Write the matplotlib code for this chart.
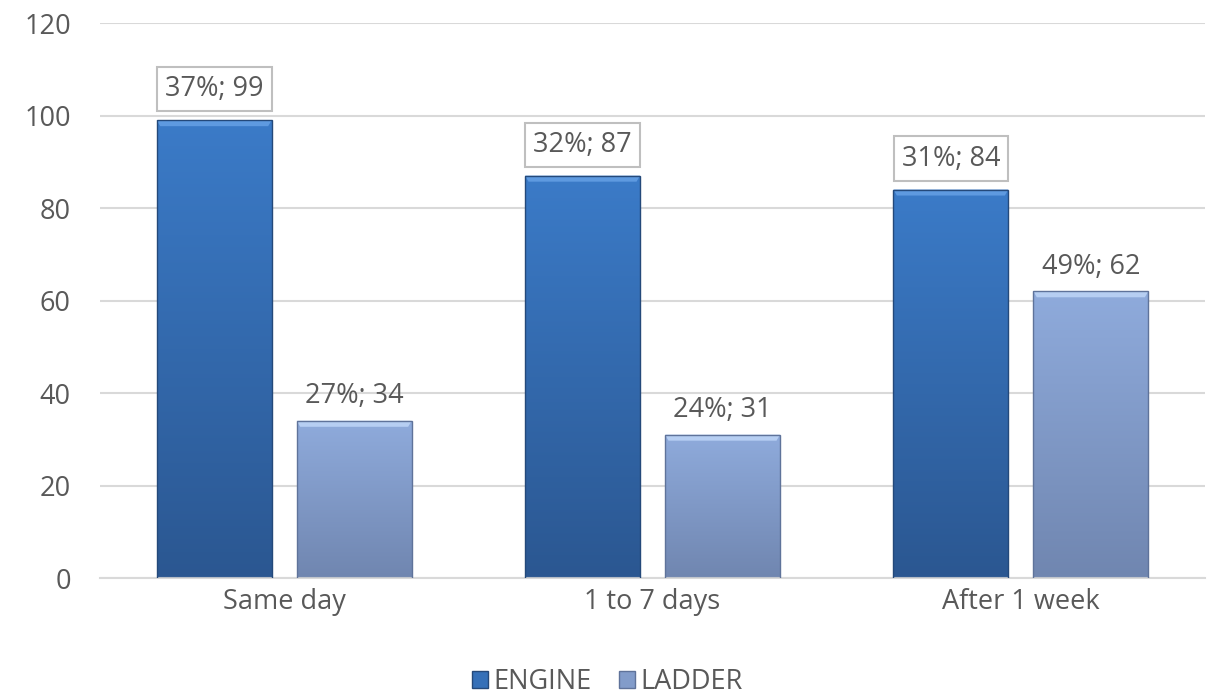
import numpy as np
import matplotlib
matplotlib.use("Agg")
import matplotlib.pyplot as plt
from matplotlib.patches import Patch, Polygon
from matplotlib.colors import LinearSegmentedColormap

CATEGORIES = ["Same day", "1 to 7 days", "After 1 week"]
ENGINE = [99, 87, 84]
LADDER = [34, 31, 62]
ENGINE_PCT = [37, 32, 31]
LADDER_PCT = [27, 24, 49]
SERIES = ["ENGINE", "LADDER"]

TEXT = "#595959"
GRID = "#d9d9d9"
FS = 19.5

plt.rcParams['font.family'] = ['Open Sans', 'DejaVu Sans']


def gradient_bars(ax, bars, top, bottom, edge, bevel):
    cmap = LinearSegmentedColormap.from_list("g", [bottom, top])
    grad = np.linspace(0, 1, 256).reshape(-1, 1)
    for b in bars:
        x, y = b.get_x(), b.get_y()
        w, h = b.get_width(), b.get_height()
        im = ax.imshow(grad, cmap=cmap, aspect="auto", origin="lower",
                       extent=(x, x + w, y, y + h), zorder=2)
        im.set_clip_path(b)
        b.set_facecolor("none")
        b.set_edgecolor(edge)
        b.set_linewidth(1.0)
        b.set_zorder(4)
        # top bevel as a trapezoid
        dx, dy = w * 0.03, 1.3
        ax.add_patch(Polygon([(x, y + h), (x + w, y + h), (x + w - dx, y + h - dy),
                              (x + dx, y + h - dy)], closed=True, fc=bevel,
                             ec="none", zorder=3))


def main():
    fig = plt.figure(figsize=(12.15, 6.96), dpi=100)
    ax = fig.add_axes([0.0823, 0.1695, 0.9095, 0.7974])

    x = np.arange(len(CATEGORIES))
    w = 0.312
    off = 0.19

    b1 = ax.bar(x - off, ENGINE, w, color="#3570b8")
    b2 = ax.bar(x + off, LADDER, w, color="#829cca")
    gradient_bars(ax, b1, "#3b7bc8", "#2b5791", "#24497a", "#5e9ae0")
    gradient_bars(ax, b2, "#8fabdc", "#7086b0", "#5f739a", "#b6cef2")

    for i in range(len(CATEGORIES)):
        ax.text(x[i] - off, ENGINE[i] + 6.7, f"{ENGINE_PCT[i]}%; {ENGINE[i]}",
                ha="center", va="center", fontsize=FS, color=TEXT, zorder=5,
                bbox=dict(boxstyle="square,pad=0.3", fc="white", ec="#bfbfbf", lw=1.5))
        ax.text(x[i] + off, LADDER[i] + 5.3, f"{LADDER_PCT[i]}%; {LADDER[i]}",
                ha="center", va="center", fontsize=FS, color=TEXT, zorder=5)

    ax.set_xlim(-0.5, 2.5)
    ax.set_ylim(0, 120)
    ax.set_yticks(range(0, 121, 20))
    ax.set_xticks(x)
    ax.set_xticklabels(CATEGORIES)
    ax.tick_params(axis="both", length=0, labelsize=FS, colors=TEXT)
    ax.tick_params(axis="y", pad=21)
    ax.tick_params(axis="x", pad=7)
    ax.yaxis.grid(True, color=GRID, lw=1.5)
    ax.set_axisbelow(True)
    for s in ["top", "right", "left"]:
        ax.spines[s].set_visible(False)
    ax.spines["bottom"].set_color(GRID)
    ax.spines["bottom"].set_linewidth(1.5)

    handles = [Patch(facecolor="#3570b8", edgecolor="#24497a"),
               Patch(facecolor="#829cca", edgecolor="#5f739a")]
    leg = fig.legend(handles, SERIES, loc="center", bbox_to_anchor=(0.5, 0.02),
                     ncol=2, frameon=False, fontsize=FS, handlelength=0.6,
                     handleheight=0.6, handletextpad=0.2, columnspacing=1.0,
                     borderpad=0)
    for t in leg.get_texts():
        t.set_color(TEXT)

    fig.savefig("out.png", dpi=100)


if __name__ == "__main__":
    main()
